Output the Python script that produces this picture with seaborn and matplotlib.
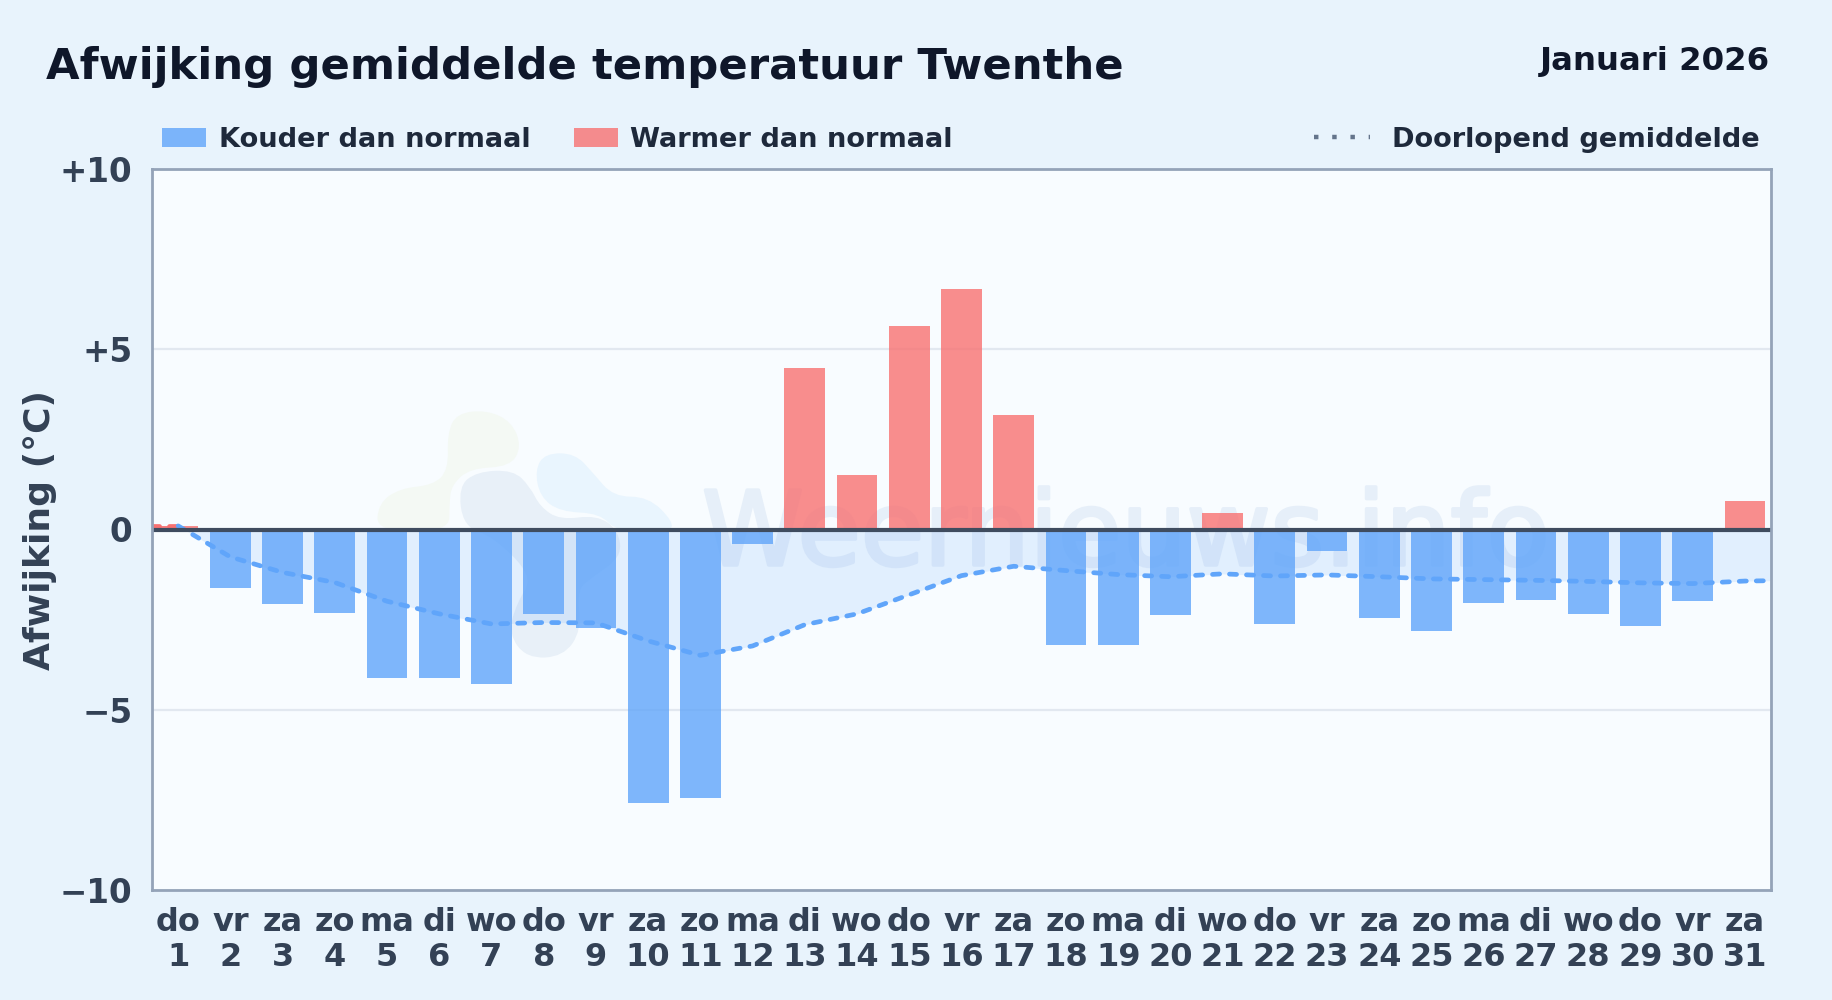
"""Afwijking gemiddelde temperatuur Twenthe, januari 2026."""

import matplotlib

matplotlib.use("Agg")
import matplotlib.patheffects as pe
import matplotlib.pyplot as plt
import numpy as np
import pandas as pd
import seaborn as sns
from matplotlib.lines import Line2D
from matplotlib.patches import Patch, PathPatch
from matplotlib.path import Path
from matplotlib.transforms import IdentityTransform

weekdays = ["do", "vr", "za", "zo", "ma", "di", "wo", "do", "vr", "za", "zo", "ma", "di", "wo", "do", "vr",
            "za", "zo", "ma", "di", "wo", "do", "vr", "za", "zo", "ma", "di", "wo", "do", "vr", "za"]
days = list(range(1, 32))
deviation = [0.10, -1.63, -2.07, -2.33, -4.13, -4.13, -4.28, -2.35, -2.74, -7.60, -7.46,
             -0.40, 4.47, 1.52, 5.64, 6.68, 3.17, -3.21, -3.21, -2.36, 0.47, -2.62,
             -0.59, -2.46, -2.82, -2.04, -1.96, -2.35, -2.68, -1.98, 0.78]
running_mean = [0.10, -0.76, -1.19, -1.47, -1.99, -2.34, -2.62, -2.58, -2.59, -3.09, -3.49,
                -3.23, -2.64, -2.34, -1.81, -1.28, -1.02, -1.14, -1.25, -1.31, -1.23, -1.29,
                -1.26, -1.31, -1.37, -1.39, -1.41, -1.44, -1.48, -1.50, -1.43]
y_ticks = [-10, -5, 0, 5, 10]
y_tick_labels = ["\u221210", "\u22125", "0", "+5", "+10"]

BLUE = "#60a5fa"
RED = "#f87171"
W, H = 1832, 1000


def blob(ax, points, color):
    """Smooth closed shape for the watermark logo, points in zoomed pixel coordinates."""
    pts = np.array([(360 + x / 3, H - (390 + y / 3)) for x, y in points])
    mids = (pts + np.roll(pts, -1, axis=0)) / 2
    verts = [mids[-1]]
    codes = [Path.MOVETO]
    for p, m in zip(pts, mids):
        verts += [p, m]
        codes += [Path.CURVE3, Path.CURVE3]
    ax.add_patch(PathPatch(Path(verts, codes), facecolor=color, edgecolor="none",
                           transform=IdentityTransform(), zorder=0.5))


sns.set_theme(style="white")
plt.rcParams["font.family"] = ["DejaVu Sans"]
plt.rcParams["font.weight"] = "bold"

frame = pd.DataFrame({
    "label": [f"{d}\n{n}" for d, n in zip(weekdays, days)],
    "value": deviation,
    "kind": ["warm" if v > 0 else "cold" for v in deviation],
})

fig = plt.figure(figsize=(W / 100, H / 100), dpi=100, facecolor="#e8f3fc")
ax = fig.add_axes([152 / W, 1 - 890 / H, (1771 - 152) / W, (890 - 169) / H], facecolor="#f8fcff")

# Watermark
blob(ax, [(290, 70), (380, 60), (455, 95), (485, 170), (450, 230), (330, 235), (275, 285), (268, 340),
          (268, 425), (50, 425), (55, 340), (120, 295), (220, 285), (265, 240), (262, 130)], "#f4f9f4")
blob(ax, [(295, 290), (350, 245), (460, 240), (510, 290), (540, 350), (600, 390), (710, 375), (775, 420),
          (785, 500), (700, 560), (650, 600), (665, 720), (610, 800), (500, 805), (445, 730), (470, 640),
          (520, 560), (400, 440), (310, 410)], "#e8f0f8")
blob(ax, [(525, 240), (555, 190), (645, 190), (700, 250), (760, 320), (865, 320), (940, 395), (930, 425),
          (770, 425), (720, 370), (600, 365), (540, 320)], "#e9f5fe")
ax.text(702, H - 565, "Weernieuws.info", fontsize=74, fontweight="normal", color="#e6eff9",
        transform=IdentityTransform(), zorder=0.6,
        path_effects=[pe.withStroke(linewidth=2.5, foreground="#e6eff9")])

sns.barplot(data=frame, x="label", y="value", hue="kind", dodge=False, width=0.78, saturation=1,
            palette={"cold": BLUE, "warm": RED}, alpha=0.8, linewidth=0, legend=False, ax=ax, zorder=3)

# Running mean runs edge to edge, its first stretch lies above zero
line_x = [-0.5] + [d - 1 for d in days] + [30.5]
line_y = [running_mean[0]] + running_mean + [-1.42]
ax.fill_between(line_x[1:], line_y[1:], 0, color=BLUE, alpha=0.15, linewidth=0, zorder=1)
ax.fill_between(line_x[:2], line_y[:2], 0, color=RED, alpha=0.5, linewidth=0, zorder=1)
dash = (1.5, 2.1)
sns.lineplot(x=line_x[:2], y=line_y[:2], color=RED, linewidth=3.4, ax=ax, zorder=4, errorbar=None, sort=False,
             linestyle=(0, dash), dash_capstyle="round")
sns.lineplot(x=line_x[1:], y=line_y[1:], color=BLUE, linewidth=3.4, ax=ax, zorder=4, errorbar=None, sort=False,
             linestyle=(0, dash), dash_capstyle="round")

ax.axhline(0, color="#3f4c5f", linewidth=3, zorder=5)
for v in (-5, 5):
    ax.axhline(v, color="#e2e8f0", linewidth=1.6, zorder=2)

ax.set_xlim(-0.5, 30.5)
ax.set_ylim(-10, 10)
ax.set_yticks(y_ticks, y_tick_labels)
ax.set_xlabel("")
ax.set_ylabel("Afwijking (\u00b0C)", fontsize=26, fontweight="bold", color="#334155", labelpad=2)
ax.tick_params(axis="y", length=0, pad=14, labelsize=23.5, labelcolor="#334155")
ax.tick_params(axis="x", length=0, pad=12, labelsize=23, labelcolor="#334155")
for spine in ax.spines.values():
    spine.set_color("#94a3b8")
    spine.set_linewidth(2)
    spine.set_zorder(6)

fig.text(46 / W, 1 - 79 / H, "Afwijking gemiddelde temperatuur Twenthe", fontsize=31.2, fontweight="bold",
         color="#0f172a", ha="left", va="baseline")
fig.text(1770 / W, 1 - 70 / H, "Januari 2026", fontsize=23.3, fontweight="bold", color="#0f172a",
         ha="right", va="baseline")

bars_legend = ax.legend(
    handles=[Patch(facecolor=BLUE, alpha=0.8, linewidth=0, label="Kouder dan normaal"),
             Patch(facecolor=RED, alpha=0.8, linewidth=0, label="Warmer dan normaal")],
    loc="lower left", bbox_to_anchor=(162 / W, 1 - 153 / H), bbox_transform=fig.transFigure, ncol=2,
    frameon=False, fontsize=19.6, labelcolor="#1e293b", borderpad=0, borderaxespad=0,
    handlelength=1.61, handleheight=0.74, handletextpad=0.47, columnspacing=1.6)
ax.add_artist(bars_legend)
ax.legend(
    handles=[Line2D([], [], color="#64748b", linewidth=3.2, linestyle=(0, (1, 3.1)),
                    label="Doorlopend gemiddelde")],
    loc="lower right", bbox_to_anchor=(1760 / W, 1 - 153 / H), bbox_transform=fig.transFigure,
    frameon=False, fontsize=19.6, labelcolor="#1e293b", borderpad=0, borderaxespad=0,
    handlelength=2.08, handletextpad=0.8)

fig.savefig("out.png", dpi=100, facecolor=fig.get_facecolor())
